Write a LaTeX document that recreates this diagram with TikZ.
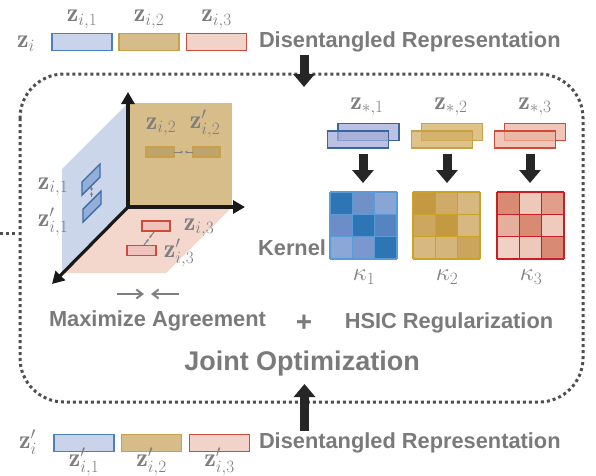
\documentclass[tikz,border=0pt]{standalone}
\usepackage{fontspec}
\setsansfont{Liberation Sans}
\usetikzlibrary{arrows.meta,calc}
\definecolor{txt}{HTML}{7A7A7A}
\definecolor{mtxt}{HTML}{7F7F7F}
\definecolor{dotc}{HTML}{4F4F4F}
\definecolor{blk}{HTML}{262626}
\definecolor{bluefill}{HTML}{C9D4EA}
\definecolor{bluebd}{HTML}{4A7FC4}
\definecolor{goldfill}{HTML}{D6BC88}
\definecolor{goldbd}{HTML}{C9A04A}
\definecolor{redfill}{HTML}{F2D3C9}
\definecolor{redbd}{HTML}{D04A3C}
\definecolor{bplane}{HTML}{CBD6EA}
\definecolor{gplane}{HTML}{D7BD8A}
\definecolor{rplane}{HTML}{F4D7CC}
\definecolor{sblue}{HTML}{A3ACD9}
\definecolor{sgold}{HTML}{D2AE62}
\definecolor{sred}{HTML}{EBB3A0}
\begin{document}
\begin{tikzpicture}[x=1pt,y=-1pt,
  every node/.style={inner sep=0pt,outer sep=0pt},
  lbl/.style={text=txt,font=\fontsize{21.8}{26}\selectfont\sffamily\bfseries},
  mth/.style={text=mtxt,font=\fontsize{26}{30}\selectfont},
  bar/.style={minimum width=60pt,minimum height=17pt,line width=1.6pt},
  bluebar/.style={bar,draw=bluebd,fill=bluefill},
  goldbar/.style={bar,draw=goldbd,fill=goldfill},
  redbar/.style={bar,draw=redbd,fill=redfill},
  bigarrow/.style={draw=blk,line width=9pt,-{Triangle[width=21pt,length=13pt]}},
  axis/.style={draw=black!90,line width=3.2pt,-{Triangle[width=13pt,length=12pt]}},
  tiny/.style={draw=mtxt,line width=1pt,-{Stealth[length=3pt,width=3pt]}},
  dotline/.style={draw=dotc,line width=3pt,dash pattern=on 3pt off 3pt},
]
\useasboundingbox (0,0) rectangle (596,475);

% ---------------- top row ----------------
\node[mth] (zi) at (26,44) {$\mathbf{z}_i$};
\node[bluebar] (t1) at (82,42) {};
\node[goldbar] (t2) at (149,42) {};
\node[redbar] (t3) at (216.5,42) {};
\node[mth] (tl1) at (82,19.5) {$\mathbf{z}_{i,1}$};
\node[mth] (tl2) at (149,19.5) {$\mathbf{z}_{i,2}$};
\node[mth] (tl3) at (216.5,19.5) {$\mathbf{z}_{i,3}$};
\node[lbl,anchor=west] (tdr) at (259,42) {Disentangled Representation};

% ---------------- bottom row ----------------
\node[mth] (zpi) at (28,442) {$\mathbf{z}'_i$};
\node[bluebar] (u1) at (84,443) {};
\node[goldbar] (u2) at (151.5,443) {};
\node[redbar] (u3) at (219.5,443) {};
\node[mth] (ul1) at (84,462) {$\mathbf{z}'_{i,1}$};
\node[mth] (ul2) at (151.5,462) {$\mathbf{z}'_{i,2}$};
\node[mth] (ul3) at (219.5,462) {$\mathbf{z}'_{i,3}$};
\node[lbl,anchor=west] (udr) at (259,443) {Disentangled Representation};

% ---------------- dotted box ----------------
\draw[dotline,rounded corners=44pt] (20,74) rectangle (583,402);
\coordinate (stubA) at (0,233);
\coordinate (stubB) at (18,233);
\draw[dotline] (stubA) -- (stubB);

% big arrows
\coordinate (ta) at (304,55);
\coordinate (tb) at (304,87);
\draw[bigarrow] (ta) -- (tb);
\coordinate (ba) at (304.5,431);
\coordinate (bb) at (304.5,384);
\draw[bigarrow] (ba) -- (bb);

% ---------------- 3D planes ----------------
\fill[bplane] (128,103) -- (62,169) -- (62,273) -- (128,207) -- cycle;
\fill[gplane] (128,103) rectangle (232,207);
\fill[rplane] (128,207) -- (232,207) -- (166,273) -- (62,273) -- cycle;
\coordinate (O) at (128,207);
\coordinate (Xup) at (128,92);
\coordinate (Xrt) at (245,207);
\coordinate (Xdl) at (52,284);
\draw[axis] (O) -- (Xup);
\draw[axis] (O) -- (Xrt);
\draw[axis] (O) -- (Xdl);

% gold plane items
\node[mth] (g1l) at (161,127) {$\mathbf{z}_{i,2}$};
\node[mth] (g2l) at (205,124) {$\mathbf{z}'_{i,2}$};
\node[draw=goldbd,fill=goldfill!75!goldbd!90!black,line width=1.3pt,minimum width=28pt,minimum height=10pt] (g1) at (160,152) {};
\node[draw=goldbd,fill=goldfill!75!goldbd!90!black,line width=1.3pt,minimum width=27pt,minimum height=10pt] (g2) at (206.5,152) {};
\coordinate (gm) at (184,152);
\draw[tiny] (g1.east) -- ($(gm)+(-0.7,0)$);
\draw[tiny] (g2.west) -- ($(gm)+(0.7,0)$);

% blue plane items
\node[mth] (b1l) at (53,187) {$\mathbf{z}_{i,1}$};
\node[mth] (b2l) at (53,222) {$\mathbf{z}'_{i,1}$};
\filldraw[draw=bluebd!85!black,fill=bluebd!45!bplane,line width=1.4pt] (82,195) -- (82,182) -- (100,164) -- (100,177) -- cycle;
\filldraw[draw=bluebd!85!black,fill=bluebd!45!bplane,line width=1.4pt] (83,222) -- (83,209) -- (101,191) -- (101,204) -- cycle;
\coordinate (bt) at (91.5,186.5);
\coordinate (bb2) at (91.5,197);
\draw[tiny] (bt) -- (91.5,191);
\draw[tiny] (bb2) -- (91.5,192);

% pink plane items
\node[mth] (r1l) at (199,228) {$\mathbf{z}_{i,3}$};
\node[mth] (r2l) at (179,253) {$\mathbf{z}'_{i,3}$};
\node[draw=redbd,fill=redfill!70!redbd!70!white,line width=1.4pt,minimum width=28pt,minimum height=10pt] (r1) at (156,226) {};
\node[draw=redbd,fill=redfill!70!redbd!70!white,line width=1.4pt,minimum width=29pt,minimum height=10pt] (r2) at (141.5,250.5) {};
\coordinate (ra) at (154,232);
\coordinate (rb) at (144,245);
\draw[tiny] (ra) -- (149.3,238);
\draw[tiny] (rb) -- (148.7,239);

% agreement arrows
\coordinate (ag1) at (117,294);
\coordinate (ag2) at (144,294);
\coordinate (ag3) at (179,294);
\coordinate (ag4) at (151,294);
\draw[draw=mtxt,line width=2pt,-{Straight Barb[length=6pt,width=9pt]}] (ag1) -- (ag2);
\draw[draw=mtxt,line width=2pt,-{Straight Barb[length=6pt,width=9pt]}] (ag3) -- (ag4);

% texts in box
\node[lbl] (ma) at (157.5,321) {Maximize Agreement};
\node[lbl,font=\fontsize{28}{30}\selectfont\sffamily\bfseries] (plus) at (304,323) {+};
\node[lbl] (hsic) at (449,323) {HSIC Regularization};
\node[lbl,font=\fontsize{27}{30}\selectfont\sffamily\bfseries] (jo) at (302,364) {Joint Optimization};

% ---------------- right side ----------------
\node[mth] (s1) at (367,107) {$\mathbf{z}_{*,1}$};
\node[mth] (s2) at (451,107) {$\mathbf{z}_{*,2}$};
\node[mth] (s3) at (535,107) {$\mathbf{z}_{*,3}$};
\tikzset{sbar/.style={minimum width=61pt,minimum height=17pt,line width=1.5pt,fill opacity=0.75}}
\node[sbar,draw=bluebd!80!black,fill=sblue] (s1b) at (368.5,132) {};
\node[sbar,draw=bluebd!80!black,fill=sblue] (s1f) at (358,139.5) {};
\node[sbar,draw=goldbd,fill=sgold] (s2b) at (452,132) {};
\node[sbar,draw=goldbd,fill=sgold] (s2f) at (442,139.5) {};
\node[sbar,draw=redbd,fill=sred] (s3b) at (535,132) {};
\node[sbar,draw=redbd,fill=sred] (s3f) at (525,139.5) {};

\coordinate (k1a) at (363,154);
\coordinate (k1b) at (363,183);
\coordinate (k2a) at (447,154);
\coordinate (k2b) at (447,183);
\coordinate (k3a) at (530,154);
\coordinate (k3b) at (530,183);
\draw[bigarrow] (k1a) -- (k1b);
\draw[bigarrow] (k2a) -- (k2b);
\draw[bigarrow] (k3a) -- (k3b);

% kernels
\def\cs{22.33}
\foreach \r/\c/\col in {0/0/2E75B6,0/1/7090C8,0/2/89A5D6,
                       1/0/6C8DC7,1/1/2E75B6,1/2/5584C1,
                       2/0/8BA7D7,2/1/7A98CE,2/2/2E75B6}{
  \definecolor{cc}{HTML}{\col}
  \fill[cc] (330+\c*\cs,192+\r*\cs) rectangle ++(\cs,\cs);}
\foreach \r/\c/\col in {0/0/C39A42,0/1/CFAB67,0/2/D6B880,
                       1/0/CDA75F,1/1/C39A42,1/2/D6B880,
                       2/0/D6B880,2/1/D4B57B,2/2/CBA55C}{
  \definecolor{cc}{HTML}{\col}
  \fill[cc] (413+\c*\cs,192+\r*\cs) rectangle ++(\cs,\cs);}
\foreach \r/\c/\col in {0/0/D98A72,0/1/EDC9B9,0/2/E19E8A,
                       1/0/E6AE9C,1/1/D98A72,1/2/EECBBD,
                       2/0/F0D1C4,2/1/ECC9BA,2/2/D98A72}{
  \definecolor{cc}{HTML}{\col}
  \fill[cc] (497+\c*\cs,192+\r*\cs) rectangle ++(\cs,\cs);}
\definecolor{gb}{HTML}{5B9BD5}
\definecolor{gg}{HTML}{C9A227}
\definecolor{gr}{HTML}{C81E28}
\foreach \x/\g in {330/gb,413/gg,497/gr}{
  \foreach \i in {0,1,2,3}{
    \draw[\g,line width=1.3pt] (\x+\i*\cs,192) -- (\x+\i*\cs,259);
    \draw[\g,line width=1.3pt] (\x,192+\i*\cs) -- (\x+67,192+\i*\cs);}}
\node[minimum size=67pt] (K1) at (363.5,225.5) {};
\node[minimum size=67pt] (K2) at (446.5,225.5) {};
\node[minimum size=67pt] (K3) at (530.5,225.5) {};
\node[lbl,anchor=east] (kern) at (326,248) {Kernel};
\node[mth] (kap1) at (364,277) {$\kappa_1$};
\node[mth] (kap2) at (447,277) {$\kappa_2$};
\node[mth] (kap3) at (531,277) {$\kappa_3$};
\end{tikzpicture}
\end{document}
